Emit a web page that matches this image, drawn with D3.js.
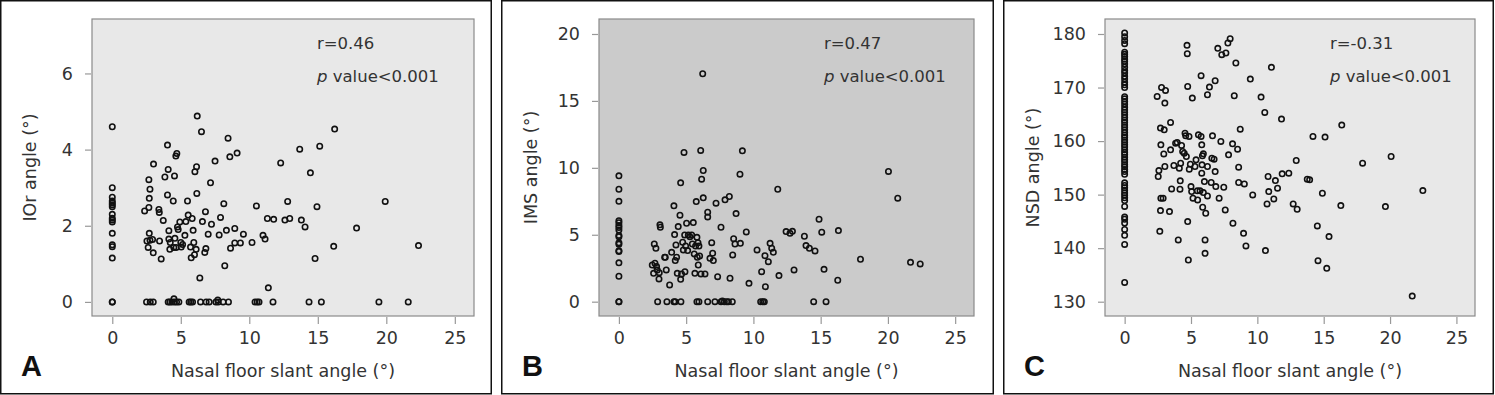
<!DOCTYPE html>
<html>
<head>
<meta charset="utf-8">
<script src="https://cdn.jsdelivr.net/npm/d3@7"></script>
<style>
  body { margin: 0; background: #fff; }
  svg text { font-family: "DejaVu Sans", sans-serif; fill: #333; }
</style>
</head>
<body>
<div id="chart"></div>
<script>
// data: [nasal floor slant angle, y angle]
const iorPoints = [
  [0,4.6],[0,3.0],[0,2.75],[0,2.65],[0,2.6],[0,2.55],[0,2.5],[0,2.3],[0,2.2],[0,2.15],[0,2.1],[0,1.8],[0,1.5],[0,1.45],[0,1.15],[0,0],[0,0],
  [2.36,2.39],[2.53,1.6],[2.62,1.43],[2.67,2.48],[2.7,2.72],[2.67,3.21],[2.75,2.96],[2.7,1.8],[2.75,1.62],[2.94,1.64],[2.99,1.29],[3.01,3.62],
  [3.4,2.43],[3.43,2.35],[3.45,1.6],[3.57,1.13],[3.72,2.14],[3.84,3.28],[4.03,4.12],[4.03,2.81],[4.08,3.48],[4.13,1.87],[4.13,1.65],[4.2,1.38],
  [4.23,1.56],[4.45,2.65],[4.49,1.43],[4.54,3.31],[4.57,1.67],[4.64,3.83],[4.71,3.9],[4.76,1.97],[4.81,1.9],[4.66,1.43],[4.93,2.1],[5.0,1.56],
  [5.13,1.51],[5.03,1.44],[5.3,1.75],[5.37,2.11],[5.49,2.65],[5.54,2.28],[5.71,1.44],[5.76,1.16],[5.83,2.19],[5.9,1.88],[5.95,1.56],[6.03,3.42],
  [6.12,1.38],[6.15,3.55],[6.17,2.85],[6.0,1.24],[6.2,4.88],[6.39,0.63],[6.51,4.47],[6.58,2.11],[6.75,1.3],[6.8,2.37],[6.83,1.4],[7.0,1.78],
  [7.17,3.13],[7.24,2.04],[7.5,3.7],[7.8,1.76],[7.9,2.22],[8.14,2.58],[8.21,0.95],[8.33,1.88],[8.45,4.3],[8.58,3.81],[8.63,1.41],[8.94,1.93],
  [8.94,1.55],[9.11,3.91],[9.35,1.55],[9.57,1.78],[10.2,1.56],[10.52,2.52],[11.0,1.75],[11.15,1.65],[11.32,2.19],[11.39,0.37],[11.78,2.17],
  [12.29,3.65],[12.6,2.15],[12.8,2.64],[12.95,2.19],[13.68,4.01],[13.8,2.15],[14.07,1.97],[14.46,3.39],[14.8,1.14],[14.94,2.5],[15.14,4.09],
  [16.16,1.46],[16.23,4.54],[17.83,1.94],[19.92,2.64],[22.35,1.48],
  [2.5,0],[2.77,0],[2.99,0],[4.08,0],[4.2,0],[4.35,0],[4.5,0.08],[4.54,0],[4.69,0],[4.86,0],[5.61,0],[5.73,0],[5.86,0],[6.44,0],[6.85,0],
  [7.07,0],[7.56,0],[7.7,0.05],[7.73,0],[8.09,0],[8.48,0],[10.42,0],[10.57,0],[10.71,0],[11.73,0],[14.36,0],[15.26,0],[19.46,0],[21.6,0]
];

const imsPoints = [
  [0,9.4],[0,8.4],[0,7.5],[0,6.05],[0,5.9],[0,5.7],[0,5.55],[0,5.35],[0,4.95],[0,4.85],[0,4.4],[0,4.3],[0,3.8],[0,3.75],[0,2.9],[0,1.9],[0,0],[0,0],
  [2.48,2.74],[2.63,4.31],[2.75,3.99],[2.68,2.87],[2.58,2.12],[2.8,2.62],[2.85,2.37],[2.98,1.7],[3.05,5.74],[3.08,5.56],[3.0,2.17],[3.4,3.32],
  [3.45,3.32],[3.52,2.37],[3.77,1.25],[3.92,3.69],[4.09,7.16],[4.14,5.01],[4.19,3.07],[4.24,4.24],[4.29,3.32],[4.34,2.12],[4.41,5.61],[4.54,6.46],
  [4.59,8.88],[4.59,1.67],[4.66,2.07],[4.74,4.44],[4.79,3.87],[4.84,11.15],[4.89,4.99],[4.91,2.24],[4.96,4.16],[5.03,5.86],[5.11,3.82],[5.16,4.99],
  [5.28,4.86],[5.41,4.99],[5.46,4.31],[5.53,5.91],[5.6,3.57],[5.65,2.12],[5.7,4.16],[5.75,7.48],[5.8,4.81],[5.83,3.32],[5.88,4.41],[5.9,2.74],
  [5.95,4.16],[6.0,3.42],[6.08,11.3],[6.1,2.07],[6.15,9.15],[6.23,17.03],[6.27,7.76],[6.27,9.8],[6.4,2.07],[6.6,6.68],[6.6,6.33],[6.77,3.24],
  [6.9,4.41],[6.97,3.62],[7.02,3.07],[7.22,7.36],[7.34,1.87],[7.59,5.56],[7.89,7.61],[8.21,7.86],[8.26,1.75],[8.46,3.49],[8.53,4.71],[8.63,4.31],
  [8.71,6.58],[9.0,9.53],[9.03,4.36],[9.18,11.27],[9.47,5.21],[9.67,1.37],[10.27,3.87],[10.61,2.24],[10.86,3.44],[10.89,1.12],[11.11,2.99],
  [11.24,4.36],[11.36,3.99],[11.48,3.69],[11.81,8.4],[11.9,1.95],[12.43,5.24],[12.72,5.11],[12.9,5.26],[13.02,2.37],[13.79,4.89],[13.91,4.19],
  [14.16,3.99],[14.58,3.79],[14.88,6.16],[15.08,5.19],[15.25,2.42],[16.32,5.31],[16.27,1.6],[17.96,3.17],[20.04,9.73],[20.73,7.73],[21.68,2.94],
  [22.4,2.82],
  [2.88,0],[3.57,0],[4.09,0],[4.19,0],[4.61,0],[5.8,0],[5.95,0],[6.6,0],[7.14,0],[7.59,0],[7.69,0.05],[7.84,0],[8.01,0],[8.14,0],[8.43,0],
  [10.54,0],[10.69,0],[10.81,0],[14.48,0],[15.4,0]
];

const nsdZeroColumn = [
  180.2,179.5,178.8,178.2,176.6,176.2,175.8,175.3,174.9,174.4,173.8,173.2,172.7,172.1,171.6,171.0,170.5,170.0,
  168.3,167.9,167.4,166.9,166.3,165.8,165.4,164.9,164.4,163.9,163.5,163.0,162.6,162.1,161.6,161.1,160.7,160.2,
  159.8,159.3,158.9,158.4,157.9,157.5,157.0,156.5,156.1,155.6,155.2,154.7,154.3,153.8,152.2,151.7,151.3,150.8,
  150.3,149.9,149.4,148.9,147.8,145.8,145.4,144.7,143.5,142.4,140.7,133.6
];

const nsdPoints = [
  [2.45,168.34],[2.78,170.02],[3.08,169.46],[3.03,167.09],[2.7,162.42],[2.98,162.11],[2.73,159.3],[3.46,163.48],[2.95,157.6],[3.03,155.25],
  [2.53,153.38],[2.58,154.5],[2.73,149.33],[2.9,149.33],[2.7,147.02],[3.38,146.83],[2.65,143.15],[3.46,158.37],[3.54,151.07],[3.71,155.44],
  [3.84,159.61],[3.96,159.74],[4.04,141.53],[4.12,154.94],[4.17,151.01],[4.19,152.57],[4.22,155.87],[4.29,159.18],[4.37,158.05],[4.49,157.74],
  [4.55,161.48],[4.6,160.99],[4.65,157.12],[4.7,177.88],[4.72,176.32],[4.75,170.21],[4.75,144.96],[4.8,137.79],[4.85,160.86],[4.87,154.75],
  [4.95,155.69],[5.0,151.51],[5.05,150.57],[5.1,168.03],[5.15,149.33],[5.3,155.25],[5.38,156.5],[5.48,150.7],[5.5,149.01],[5.56,161.17],
  [5.68,150.7],[5.76,172.21],[5.76,160.86],[5.81,159.3],[5.81,154.0],[5.83,155.56],[5.86,157.24],[5.88,147.64],[5.93,150.39],[5.93,157.62],
  [6.01,152.44],[6.06,141.53],[6.06,139.04],[6.11,146.52],[6.24,168.65],[6.24,149.76],[6.24,155.25],[6.39,170.09],[6.52,152.26],[6.57,156.81],
  [6.62,160.99],[6.74,156.62],[6.82,154.31],[6.82,171.27],[6.87,151.51],[7.02,177.32],[7.12,149.33],[7.25,159.93],[7.32,176.13],[7.47,151.38],
  [7.58,147.14],[7.63,176.45],[7.78,178.32],[7.83,157.43],[7.95,179.13],[8.13,159.49],[8.16,144.65],[8.26,168.47],[8.38,174.58],[8.51,158.49],
  [8.59,155.12],[8.59,152.26],[8.71,162.23],[8.96,142.78],[9.02,152.0],[9.14,140.41],[9.47,171.58],[9.65,149.95],[10.28,168.22],[10.56,165.35],
  [10.61,139.54],[10.73,148.27],[10.81,153.38],[10.86,150.57],[11.06,173.77],[11.24,149.2],[11.36,152.63],[11.52,151.2],[11.82,164.1],
  [11.87,153.88],[12.37,154.0],[12.7,148.27],[12.93,156.37],[13.0,147.27],[13.76,152.88],[13.94,152.76],[14.19,160.86],[14.52,144.15],
  [14.57,137.67],[14.9,150.26],[15.1,160.74],[15.23,136.23],[15.4,142.16],[16.29,147.96],[16.36,162.98],[17.93,155.87],[19.65,147.77],
  [20.08,157.12],[21.67,131.06],[22.47,150.76]
];

const xTicks = [0, 5, 10, 15, 20, 25];
const iorTicks = [0, 2, 4, 6];
const imsTicks = [0, 5, 10, 15, 20];
const nsdTicks = [130, 140, 150, 160, 170, 180];

const xTitle = "Nasal floor slant angle (°)";

const panels = [
  { letter: "A", left: 0, right: 492, plot: [92, 474], bg: "#e8e8e8",
    points: iorPoints, yTicks: iorTicks, yDomain: [-0.37, 7.43],
    yTitle: "IOr angle (°)", r: "r=0.46" },
  { letter: "B", left: 501, right: 994, plot: [599, 974], bg: "#cbcbcb",
    points: imsPoints, yTicks: imsTicks, yDomain: [-1.07, 21.12],
    yTitle: "IMS angle (°)", r: "r=0.47" },
  { letter: "C", left: 1003, right: 1494, plot: [1105, 1475], bg: "#e8e8e8",
    points: nsdZeroColumn.map(v => [0, v]).concat(nsdPoints), yTicks: nsdTicks, yDomain: [127.33, 182.8],
    yTitle: "NSD angle (°)", r: "r=-0.31" }
];

const W = 1495, H = 395;
const plotTop = 19, plotBottom = 316;

const svg = d3.select("#chart")
  .append("svg")
  .attr("width", W)
  .attr("height", H);

panels.forEach(p => {
  const g = svg.append("g");

  // outer frame of the panel
  g.append("rect")
    .attr("x", p.left + 0.75)
    .attr("y", 0.75)
    .attr("width", p.right - p.left - 1.5)
    .attr("height", H - 2)
    .attr("fill", "#fff")
    .attr("stroke", "#111")
    .attr("stroke-width", 1.5);

  const x = d3.scaleLinear().domain([-1.48, 26.4]).range(p.plot);
  const y = d3.scaleLinear().domain(p.yDomain).range([plotBottom, plotTop]);

  g.append("rect")
    .attr("x", p.plot[0])
    .attr("y", plotTop)
    .attr("width", p.plot[1] - p.plot[0])
    .attr("height", plotBottom - plotTop)
    .attr("fill", p.bg)
    .attr("stroke", "#8a8a8a")
    .attr("stroke-width", 1.2);

  // axes
  const xAxis = g.append("g")
    .attr("transform", `translate(0, ${plotBottom + 1})`)
    .call(d3.axisBottom(x).tickValues(xTicks).tickSize(7).tickPadding(8));
  const yAxis = g.append("g")
    .attr("transform", `translate(${p.plot[0] - 1}, 0)`)
    .call(d3.axisLeft(y).tickValues(p.yTicks).tickSize(6).tickPadding(12));

  [xAxis, yAxis].forEach(a => {
    a.select(".domain").remove();
    a.selectAll(".tick line").attr("stroke", "#999").attr("stroke-width", 1.2);
    a.selectAll(".tick text")
      .attr("font-family", "DejaVu Sans, sans-serif")
      .attr("font-size", 17.5)
      .attr("fill", "#333");
  });

  // points
  g.append("g")
    .selectAll("circle")
    .data(p.points)
    .join("circle")
    .attr("cx", d => x(d[0]))
    .attr("cy", d => y(d[1]))
    .attr("r", 2.7)
    .attr("fill", "none")
    .attr("stroke", "#111")
    .attr("stroke-width", 1.6);

  // correlation text
  g.append("text")
    .attr("x", p.plot[0] + 225)
    .attr("y", 49)
    .attr("font-size", 16.5)
    .text(p.r);
  const pv = g.append("text")
    .attr("x", p.plot[0] + 225)
    .attr("y", 82)
    .attr("font-size", 16.5);
  pv.append("tspan").attr("font-style", "italic").text("p");
  pv.append("tspan").text(" value<0.001");

  // axis titles
  g.append("text")
    .attr("x", (p.plot[0] + p.plot[1]) / 2)
    .attr("y", 377)
    .attr("text-anchor", "middle")
    .attr("font-size", 17.5)
    .text(xTitle);
  g.append("text")
    .attr("transform", `translate(${p.left + 36}, ${(plotTop + plotBottom) / 2}) rotate(-90)`)
    .attr("text-anchor", "middle")
    .attr("font-size", 17.5)
    .text(p.yTitle);

  // panel letter
  g.append("text")
    .attr("x", p.left + 21)
    .attr("y", 376)
    .attr("font-weight", "bold")
    .attr("font-size", 29)
    .style("fill", "#111")
    .style("font-family", "Liberation Sans, Arial, sans-serif")
    .text(p.letter);
});
</script>
</body>
</html>
